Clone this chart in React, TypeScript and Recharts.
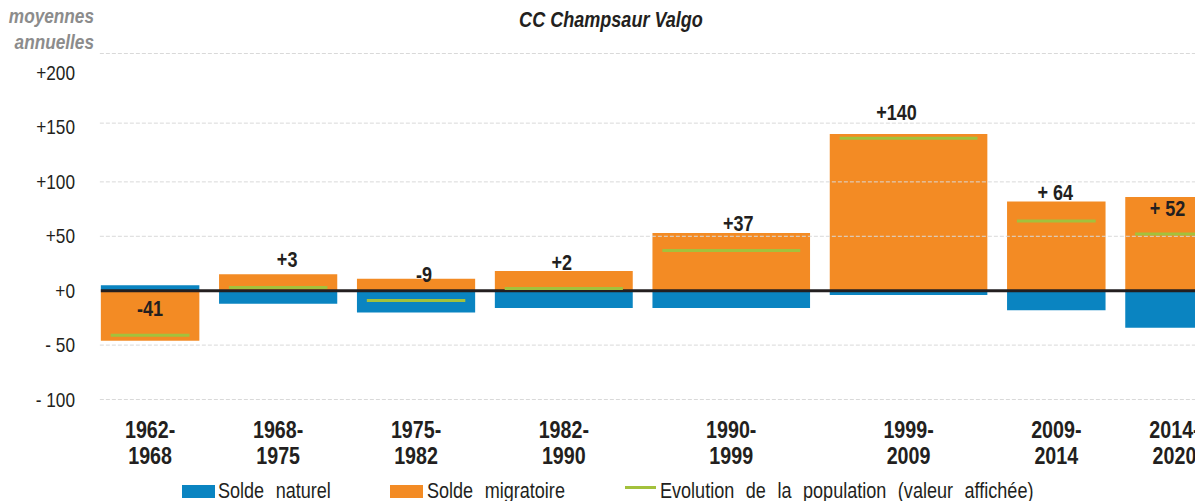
import React from 'react';
import {
  ComposedChart,
  XAxis,
  YAxis,
  ReferenceArea,
  ReferenceLine,
  Scatter,
} from 'recharts';

// Périodes intercensitaires, largeur des colonnes en "pas" de l'axe
const PERIODS = ['1962-1968', '1968-1975', '1975-1982', '1982-1990', '1990-1999', '1999-2009', '2009-2014', '2014-2020'];
const SLOTS = [6, 7, 7, 8, 9, 9, 6, 6];

// moyennes annuelles
const SOLDE_NATUREL = [5, -12, -20, -16, -16, -4, -18, -34];
const SOLDE_MIGRATOIRE = [-46, 15, 11, 18, 53, 144, 82, 86];
const EVOLUTION = [-41, 3, -9, 2, 37, 140, 64, 52];
const EVOLUTION_LABELS = ['-41', '+3', '-9', '+2', '+37', '+140', '+ 64', '+ 52'];

const Y_TICKS = [-100, -50, 0, 50, 100, 150, 200];

// placement des étiquettes (px) par rapport au haut de la colonne
const LABEL_DX = [0, 9, 8, -2, 7, -12, -1, -7];
const LABEL_DY = [23, -15, -5, -9, -10, -22, -9, 11];
const GRID_VALUES = [-100, -50, 50, 100, 154, 218];

const BLUE = '#0A84C1';
const ORANGE = '#F38B24';
const GREEN = '#A3C13C';
const INK = '#231F20';
const FONT = "'Liberation Sans', Arial, sans-serif";
const SQUEEZE = 0.82; // pas d'Arial Narrow installée : on compresse Arial

const TOTAL_SLOTS = SLOTS.reduce((a, b) => a + b, 0);

const rows = (() => {
  let start = 0;
  return PERIODS.map((p, i) => {
    const s = start;
    start += SLOTS[i];
    let pos = 0;
    let neg = 0;
    const stack = (v: number) => {
      if (v >= 0) {
        const seg = [pos, pos + v];
        pos += v;
        return seg;
      }
      const seg = [neg, neg + v];
      neg += v;
      return seg;
    };
    const nat = stack(SOLDE_NATUREL[i]);
    const mig = stack(SOLDE_MIGRATOIRE[i]);
    return {
      period: p,
      start: s,
      end: s + SLOTS[i],
      center: s + SLOTS[i] / 2,
      nat,
      mig,
      evolution: EVOLUTION[i],
      labelAt: pos,
      label: EVOLUTION_LABELS[i],
      dx: LABEL_DX[i],
      dy: LABEL_DY[i],
    };
  });
})();

const centers = rows.map((r) => r.center);

const formatY = (v: number) => (v > 0 ? `+${v}` : v === 0 ? '+0' : `- ${-v}`);

const YTick = (props: any) => {
  const { x, y, payload } = props;
  return (
    <g transform={`translate(${x} ${y}) scale(${SQUEEZE} 1)`}>
      <text x={0} y={7} textAnchor="end" fontFamily={FONT} fontSize={21} fill={INK}>
        {formatY(payload.value)}
      </text>
    </g>
  );
};

const XTick = (props: any) => {
  const { x, y, payload } = props;
  const idx = centers.indexOf(payload.value);
  if (idx < 0) return null;
  const [a, b] = PERIODS[idx].split('-');
  return (
    <g transform={`translate(${x} ${y}) scale(${SQUEEZE} 1)`}>
      <text x={0} y={0} textAnchor="middle" fontFamily={FONT} fontSize={24} fontWeight="bold" fill={INK}>
        <tspan x={0} dy={38.5}>{a}-</tspan>
        <tspan x={0} dy={26.5}>{b}</tspan>
      </text>
    </g>
  );
};

const LabelShape = (props: any) => {
  const { cx, cy, payload } = props;
  return (
    <g transform={`translate(${cx + payload.dx} ${cy + payload.dy + 8}) scale(${SQUEEZE} 1)`}>
      <text x={0} y={0} textAnchor="middle" fontFamily={FONT} fontSize={22} fontWeight="bold" fill={INK}>
        {payload.label}
      </text>
    </g>
  );
};

const legendText: React.CSSProperties = {
  position: 'absolute',
  top: 480,
  fontFamily: FONT,
  fontSize: 22,
  color: INK,
  wordSpacing: 8,
  whiteSpace: 'nowrap',
  lineHeight: '22px',
  transform: `scaleX(${SQUEEZE})`,
  transformOrigin: '0 0',
};

export default function App() {
  return (
    <div
      style={{
        position: 'fixed',
        left: 0,
        top: 0,
        width: 1195,
        height: 501,
        overflow: 'hidden',
        background: '#fff',
      }}
    >
      <div
        style={{
          position: 'absolute',
          top: 8,
          left: 0,
          width: 1222,
          textAlign: 'center',
          fontFamily: FONT,
          fontSize: 22,
          fontWeight: 'bold',
          fontStyle: 'italic',
          color: INK,
          lineHeight: '24px',
          whiteSpace: 'nowrap',
          transform: `scaleX(${SQUEEZE})`,
          transformOrigin: '611px 0',
        }}
      >
        CC Champsaur Valgo
      </div>
      <div
        style={{
          position: 'absolute',
          top: 3,
          left: -206,
          width: 300,
          textAlign: 'right',
          fontFamily: FONT,
          fontSize: 21,
          fontWeight: 'bold',
          fontStyle: 'italic',
          color: '#8C8C8C',
          lineHeight: '26px',
          whiteSpace: 'nowrap',
          transform: `scaleX(${SQUEEZE})`,
          transformOrigin: '300px 0',
        }}
      >
        moyennes
        <br />
        annuelles
      </div>

      <ComposedChart
        width={1240}
        height={501}
        data={rows}
        margin={{ top: 53.5, right: 6.4, bottom: 2.5, left: 0 }}
      >
        <XAxis
          type="number"
          dataKey="center"
          domain={[0, TOTAL_SLOTS]}
          ticks={centers}
          interval={0}
          axisLine={false}
          tickLine={false}
          tickSize={0}
          tickMargin={0}
          height={99}
          tick={<XTick />}
          allowDataOverflow
        />
        <YAxis
          type="number"
          domain={[-100, 218]}
          ticks={Y_TICKS}
          interval={0}
          axisLine={false}
          tickLine={false}
          tickSize={0}
          tickMargin={16}
          width={91}
          tick={<YTick />}
          allowDataOverflow
        />

        {GRID_VALUES.map((v) => (
          <ReferenceLine
            key={`g${v}`}
            segment={[{ x: 0.45, y: v }, { x: TOTAL_SLOTS, y: v }]}
            stroke="#D9D9D9"
            strokeDasharray="4 2"
            strokeWidth={1}
            ifOverflow="visible"
          />
        ))}

        {rows.map((r) => (
          <ReferenceArea
            key={`n${r.period}`}
            x1={r.start + 0.5}
            x2={r.end - 0.5}
            y1={r.nat[0]}
            y2={r.nat[1]}
            fill={BLUE}
            fillOpacity={1}
            stroke="none"
            ifOverflow="visible"
          />
        ))}
        {rows.map((r) => (
          <ReferenceArea
            key={`m${r.period}`}
            x1={r.start + 0.5}
            x2={r.end - 0.5}
            y1={r.mig[0]}
            y2={r.mig[1]}
            fill={ORANGE}
            fillOpacity={1}
            stroke="none"
            ifOverflow="visible"
          />
        ))}

        <ReferenceLine
          segment={[{ x: 0.5, y: 0 }, { x: TOTAL_SLOTS, y: 0 }]}
          stroke={INK}
          strokeWidth={3}
          ifOverflow="visible"
        />

        {rows.map((r) => (
          <ReferenceLine
            key={`e${r.period}`}
            segment={[{ x: r.start + 1, y: r.evolution }, { x: r.end - 1, y: r.evolution }]}
            stroke={GREEN}
            strokeWidth={3}
            ifOverflow="visible"
          />
        ))}

        <Scatter dataKey="labelAt" shape={<LabelShape />} isAnimationActive={false} />
      </ComposedChart>

      <div style={{ position: 'absolute', left: 182, top: 485, width: 33, height: 13, background: BLUE }} />
      <div style={{ ...legendText, left: 218 }}>Solde naturel</div>
      <div style={{ position: 'absolute', left: 390, top: 485, width: 33, height: 13, background: ORANGE }} />
      <div style={{ ...legendText, left: 427 }}>Solde migratoire</div>
      <div style={{ position: 'absolute', left: 625, top: 486, width: 31, height: 3, background: GREEN }} />
      <div style={{ ...legendText, left: 660 }}>Evolution de la population (valeur affichée)</div>
    </div>
  );
}
